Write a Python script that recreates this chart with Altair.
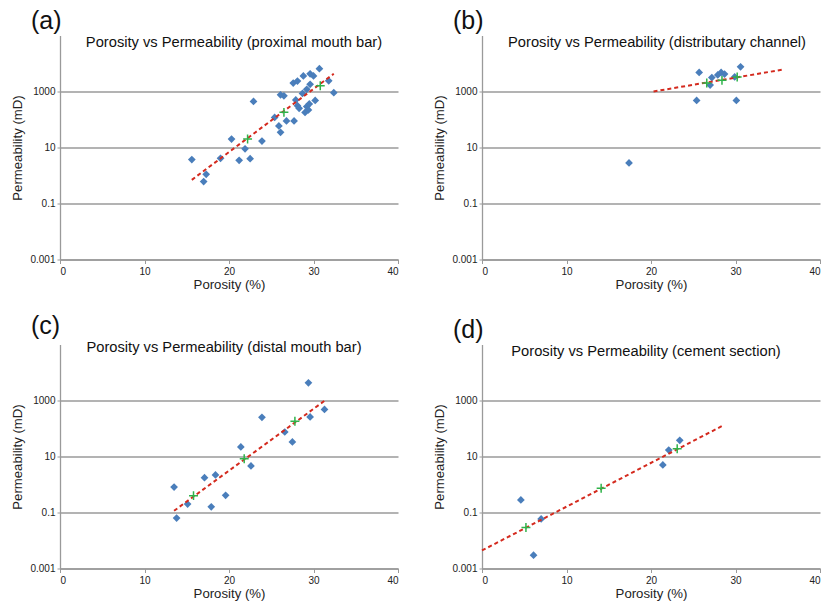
import altair as alt
import pandas as pd

# ---------------- data ----------------
# (a) proximal mouth bar
por_a = [15.6, 17.0, 17.3, 19.0, 20.3, 21.9, 21.2, 22.5, 22.9, 23.9, 25.4, 25.9, 26.1,
         26.1, 26.5, 26.8, 27.6, 28.1, 27.7, 27.9, 28.1, 28.3, 28.7, 28.8, 29.0, 29.2,
         29.2, 29.4, 29.6, 29.6, 29.5, 30.0, 30.2, 30.7, 31.8, 32.4]
perm_a = [3.7, 0.61, 1.1, 4.1, 20, 9, 3.5, 4, 440, 17, 118, 59, 35,
          760, 700, 89, 2000, 2350, 89, 500, 310, 250, 850, 3600, 178, 290,
          1200, 220, 1800, 4300, 360, 3600, 480, 6500, 2400, 910]
fit_x_a = [15.6, 32.4]
fit_y_a = [0.7, 4300]
cross_x_a = [22.2, 26.5, 30.8]
cross_y_a = [20, 180, 1600]

# (b) distributary channel
por_b = [17.4, 25.4, 25.7, 27.0, 27.2, 27.9, 28.3, 28.7, 29.9, 30.1, 30.6]
perm_b = [2.8, 480, 4800, 1700, 3150, 3900, 4800, 4200, 3300, 480, 7600]
fit_x_b = [20.3, 35.8]
fit_y_b = [1000, 6200]
cross_x_b = [26.6, 28.4, 30.2]
cross_y_b = [2000, 2500, 3300]

# (c) distal mouth bar
por_c = [13.5, 13.8, 15.1, 17.1, 17.9, 18.4, 19.6, 21.4, 22.6, 23.9, 26.6, 27.5, 29.4, 29.6, 31.3]
perm_c = [0.81, 0.063, 0.2, 1.75, 0.16, 2.2, 0.41, 22, 4.6, 250, 75, 33, 4300, 260, 480]
fit_x_c = [13.5, 31.4]
fit_y_c = [0.115, 1020]
cross_x_c = [15.8, 21.8, 27.8]
cross_y_c = [0.4, 8.3, 182]

# (d) cement section
por_d = [4.6, 6.1, 7.0, 21.4, 22.1, 23.4]
perm_d = [0.28, 0.003, 0.059, 5, 17, 38]
fit_x_d = [0.0, 28.4]
fit_y_d = [0.0044, 122]
cross_x_d = [5.2, 14.1, 23.1]
cross_y_d = [0.029, 0.74, 19]

FONT = "Liberation Sans"
W, H = 338, 224
BLUE = "#4a7ebb"
RED = "#d42a1e"
GREEN = "#2fb34a"
GRAY = "#9a9a9a"

xscale = alt.Scale(domain=[0, 40], nice=False)
yscale = alt.Scale(type="log", domain=[0.001, 100000], nice=False)

xaxis = alt.Axis(title="Porosity (%)", values=[0, 10, 20, 30, 40], grid=False,
                 tickSize=4, labelPadding=3, titlePadding=2)
yaxis = alt.Axis(title="Permeability (mD)", values=[0.001, 0.1, 10, 1000], format="~g",
                 grid=True, tickSize=3, labelPadding=2, minExtent=30, maxExtent=30,
                 titlePadding=6)


def panel(label, title, por, perm, fx, fy, cx, cy, tdx, tdy):
    pts = pd.DataFrame({"por": por, "perm": perm})
    fit = pd.DataFrame({"por": fx, "perm": fy})
    crs = pd.DataFrame({"por": cx, "perm": cy})
    x = alt.X("por:Q", scale=xscale, axis=xaxis)
    y = alt.Y("perm:Q", scale=yscale, axis=yaxis)
    p = alt.Chart(pts).mark_point(shape="diamond", filled=True, size=60, color=BLUE,
                                  opacity=1).encode(x=x, y=y)
    l = alt.Chart(fit).mark_line(color=RED, strokeWidth=2, strokeDash=[4, 3]).encode(x=x, y=y)
    c = alt.Chart(crs).mark_point(shape="M-1,0L1,0M0,-1L0,1", filled=False, size=80,
                                  color=GREEN, strokeWidth=1.5, opacity=1).encode(x=x, y=y)
    t = alt.Chart(pd.DataFrame({"t": [title]})).mark_text(
        font=FONT, fontSize=14.7, color="#111", align="center", baseline="middle"
    ).encode(text="t:N", x=alt.value(W / 2 + tdx), y=alt.value(tdy))
    return alt.layer(p, l, c, t).properties(
        width=W, height=H,
        title=alt.Title(label, anchor="start", frame="group", fontSize=25,
                        font=FONT, fontWeight="normal", dx=-29, offset=1, color="#111"),
    )


a = panel("(a)", "Porosity vs Permeability (proximal mouth bar)", por_a, perm_a,
          fit_x_a, fit_y_a, cross_x_a, cross_y_a, 5, 7)
b = panel("(b)", "Porosity vs Permeability (distributary channel)", por_b, perm_b,
          fit_x_b, fit_y_b, cross_x_b, cross_y_b, 6, 7)
c = panel("(c)", "Porosity vs Permeability (distal mouth bar)", por_c, perm_c,
          fit_x_c, fit_y_c, cross_x_c, cross_y_c, -5, 3)
d = panel("(d)", "Porosity vs Permeability (cement section)", por_d, perm_d,
          fit_x_d, fit_y_d, cross_x_d, cross_y_d, -5, 7)

chart = alt.vconcat(
    alt.hconcat(a, b, spacing=33),
    alt.hconcat(c, d, spacing=33),
    spacing=22,
).properties(
    padding={"left": 10, "top": 8.5, "right": 0, "bottom": 0},
    background="white",
).configure_view(stroke=None).configure_axis(
    labelFont=FONT, titleFont=FONT, labelFontSize=10, titleFontSize=13.2,
    labelColor="#222", titleColor="#222", titleFontWeight="normal",
    domainColor=GRAY, tickColor=GRAY, gridColor=GRAY, gridWidth=1.3, domainWidth=1.3,
)

chart.save("out.html", embed_options={"renderer": "svg", "actions": False})
